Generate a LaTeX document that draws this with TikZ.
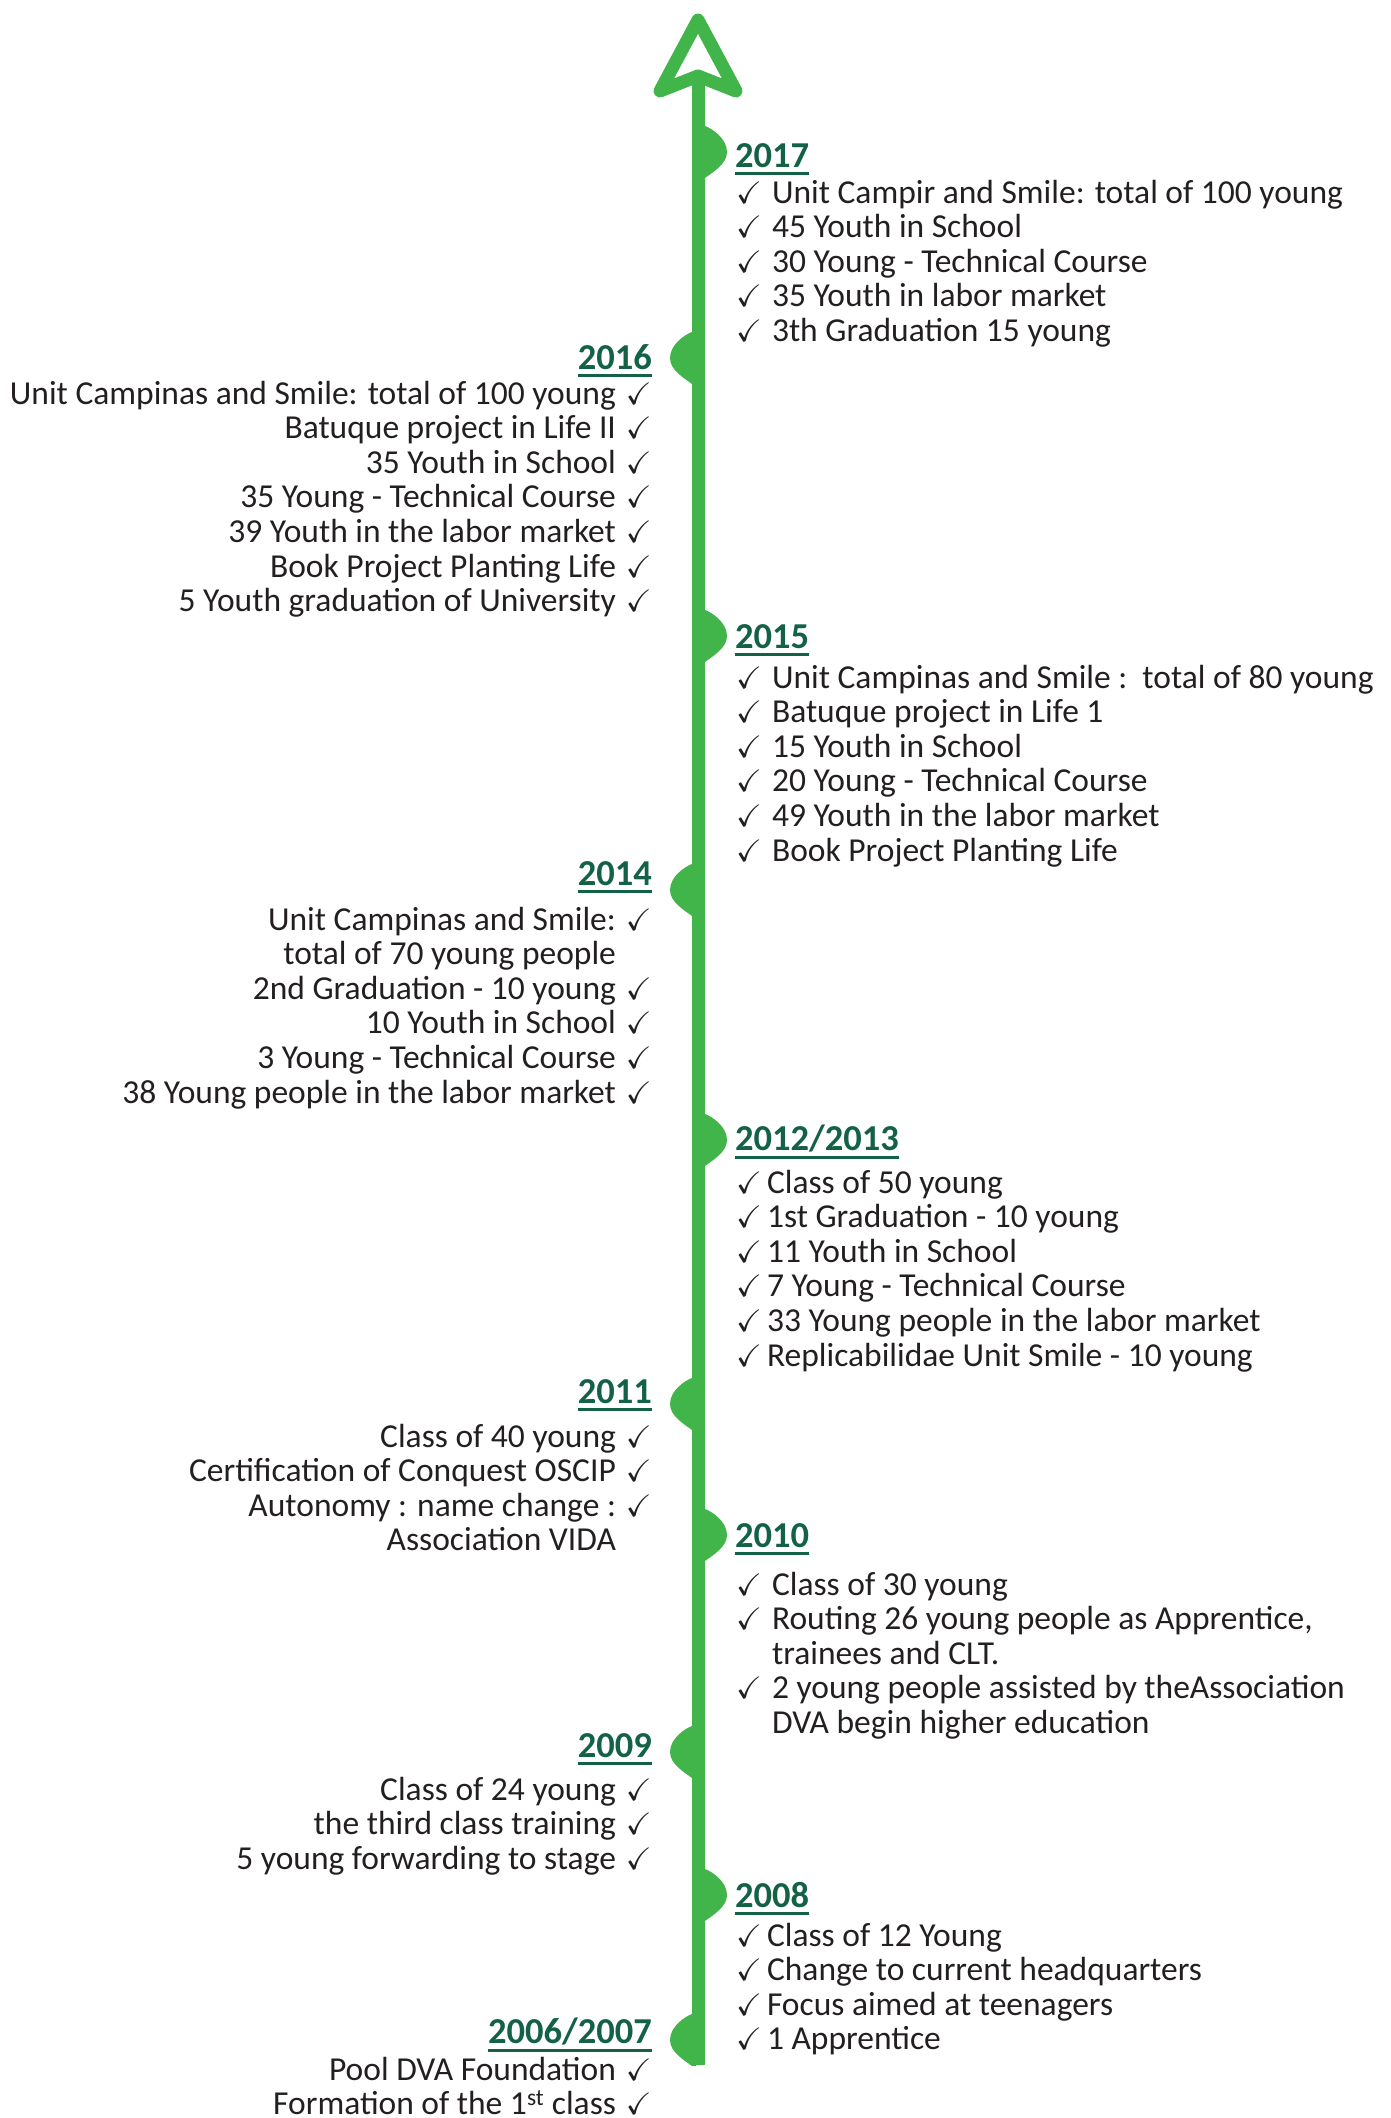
\documentclass[tikz,border=0pt]{standalone}
\usepackage{amssymb}
\usepackage{fontspec}
\setmainfont{Carlito}
\usepackage{xcolor}
\definecolor{linegreen}{RGB}{66, 181, 74}
\definecolor{yeargreen}{RGB}{20, 98, 70}
\definecolor{textgray}{RGB}{35, 31, 32}
\usepackage{tikz}
\usetikzlibrary{positioning}

\newcommand{\ck}{{\fontsize{31}{31}\selectfont$\checkmark$}}
\newcommand{\ckR}[1]{\ck\hspace{10pt}#1}
\newcommand{\ckL}[1]{#1\hspace{10pt}\ck}
\newcommand{\noR}[1]{\phantom{\ck}\hspace{10pt}#1}
\newcommand{\noL}[1]{#1\hspace{10pt}\phantom{\ck}}

\tikzset{
  year/.style={inner sep=0pt, font=\fontsize{36.5}{40}\selectfont\bfseries, text=yeargreen},
  yearR/.style={year, anchor=base west},
  yearL/.style={year, anchor=base east},
  listR/.style={inner sep=0pt, anchor=base west, font=\fontsize{33.5}{34.6}\selectfont, text=textgray},
  listL/.style={listR, anchor=base east},
  yearline/.style={draw=yeargreen, line width=3pt},
  bump/.pic={\fill[linegreen] (0,-26) .. controls (6,-24) and (22,-14) .. (22,0)
                .. controls (22,12) and (8,20) .. (0,26) -- (-4,26) -- (-4,-26) -- cycle;}
}

\begin{document}
\begin{tikzpicture}[x=1pt, y=-1pt]
    \useasboundingbox (0,0) rectangle (1390,2118);

    % time axis with open arrow head
    \coordinate (top) at (698,76);
    \coordinate (bottom) at (698,2065);
    \draw[linegreen, line width=13pt] (top) -- (bottom);
    \draw[linegreen, line width=13pt, line join=round, fill=white]
         (660,91) -- (698,20) -- (736,91) -- (top) -- cycle;

    % markers
    \pic at (705,152) {bump};
    \pic[xscale=-1] at (692,358) {bump};
    \pic at (705,636) {bump};
    \pic[xscale=-1] at (692,890) {bump};
    \pic at (705,1140) {bump};
    \pic[xscale=-1] at (692,1404) {bump};
    \pic at (705,1535) {bump};
    \pic[xscale=-1] at (692,1752) {bump};
    \pic at (705,1895) {bump};
    \pic[xscale=-1] at (692,2040) {bump};

    % 2017
    \node[yearR] (y2017) at (735,167) {2017};
    \node[listR] (l2017) at (736,203) {\begin{tabular}[t]{@{}l@{}}
        \ckR{Unit Campir and Smile: total of 100 young}\\
        \ckR{45 Youth in School}\\
        \ckR{30 Young - Technical Course}\\
        \ckR{35 Youth in labor market}\\
        \ckR{3th Graduation 15 young}
      \end{tabular}};

    % 2016
    \node[yearL] (y2016) at (652,369) {2016};
    \node[listL] (l2016) at (652,404) {\begin{tabular}[t]{@{}r@{}}
        \ckL{Unit Campinas and Smile: total of 100 young}\\
        \ckL{Batuque project in Life II}\\
        \ckL{35 Youth in School}\\
        \ckL{35 Young - Technical Course}\\
        \ckL{39 Youth in the labor market}\\
        \ckL{Book Project Planting Life}\\
        \ckL{5 Youth graduation of University}
      \end{tabular}};

    % 2015
    \node[yearR] (y2015) at (735,648) {2015};
    \node[listR] (l2015) at (736,688) {\begin{tabular}[t]{@{}l@{}}
        \ckR{Unit Campinas and Smile :\ \ total of 80 young}\\
        \ckR{Batuque project in Life 1}\\
        \ckR{15 Youth in School}\\
        \ckR{20 Young - Technical Course}\\
        \ckR{49 Youth in the labor market}\\
        \ckR{Book Project Planting Life}
      \end{tabular}};

    % 2014
    \node[yearL] (y2014) at (652,885) {2014};
    \node[listL] (l2014) at (652,930) {\begin{tabular}[t]{@{}r@{}}
        \ckL{Unit Campinas and Smile:}\\
        \noL{total of 70 young people}\\
        \ckL{2nd Graduation - 10 young}\\
        \ckL{10 Youth in School}\\
        \ckL{3 Young - Technical Course}\\
        \ckL{38 Young people in the labor market}
      \end{tabular}};

    % 2012/2013
    \node[yearR] (y2012) at (735,1150) {2012/2013};
    \node[listR] (l2012) at (736,1193) {\begin{tabular}[t]{@{}l@{}}
        \ck\hspace{5pt}Class of 50 young\\
        \ck\hspace{5pt}1st Graduation - 10 young\\
        \ck\hspace{5pt}11 Youth in School\\
        \ck\hspace{5pt}7 Young - Technical Course\\
        \ck\hspace{5pt}33 Young people in the labor market\\
        \ck\hspace{5pt}Replicabilidae Unit Smile - 10 young
      \end{tabular}};

    % 2011
    \node[yearL] (y2011) at (652,1403) {2011};
    \node[listL] (l2011) at (652,1447) {\begin{tabular}[t]{@{}r@{}}
        \ckL{Class of 40 young}\\
        \ckL{Certification of Conquest OSCIP}\\
        \ckL{Autonomy : name change :}\\
        \noL{Association VIDA}
      \end{tabular}};

    % 2010
    \node[yearR] (y2010) at (735,1547) {2010};
    \node[listR] (l2010) at (736,1595) {\begin{tabular}[t]{@{}l@{}}
        \ckR{Class of 30 young}\\
        \ckR{Routing 26 young people as Apprentice,}\\
        \noR{trainees and CLT.}\\
        \ckR{2 young people assisted by theAssociation}\\
        \noR{DVA begin higher education}
      \end{tabular}};

    % 2009
    \node[yearL] (y2009) at (652,1757) {2009};
    \node[listL] (l2009) at (652,1800) {\begin{tabular}[t]{@{}r@{}}
        \ckL{Class of 24 young}\\
        \ckL{the third class training}\\
        \ckL{5 young forwarding to stage}
      \end{tabular}};

    % 2008
    \node[yearR] (y2008) at (735,1907) {2008};
    \node[listR] (l2008) at (736,1946) {\begin{tabular}[t]{@{}l@{}}
        \ck\hspace{5pt}Class of 12 Young\\
        \ck\hspace{5pt}Change to current headquarters\\
        \ck\hspace{5pt}Focus aimed at teenagers\\
        \ck\hspace{5pt}1 Apprentice
      \end{tabular}};

    % 2006/2007
    \node[yearL] (y2006) at (652,2043) {2006/2007};
    \node[listL] (l2006) at (652,2080) {\begin{tabular}[t]{@{}r@{}}
        \ckL{Pool DVA Foundation}\\
        \ckL{Formation of the 1\textsuperscript{st} class}
      \end{tabular}};

    % year underlines
    \foreach \y in {y2017, y2016, y2015, y2014, y2012, y2011, y2010, y2009, y2008, y2006}
      \draw[yearline] ([yshift=-6pt]\y.south west) -- ([yshift=-6pt]\y.south east);
\end{tikzpicture}
\end{document}
